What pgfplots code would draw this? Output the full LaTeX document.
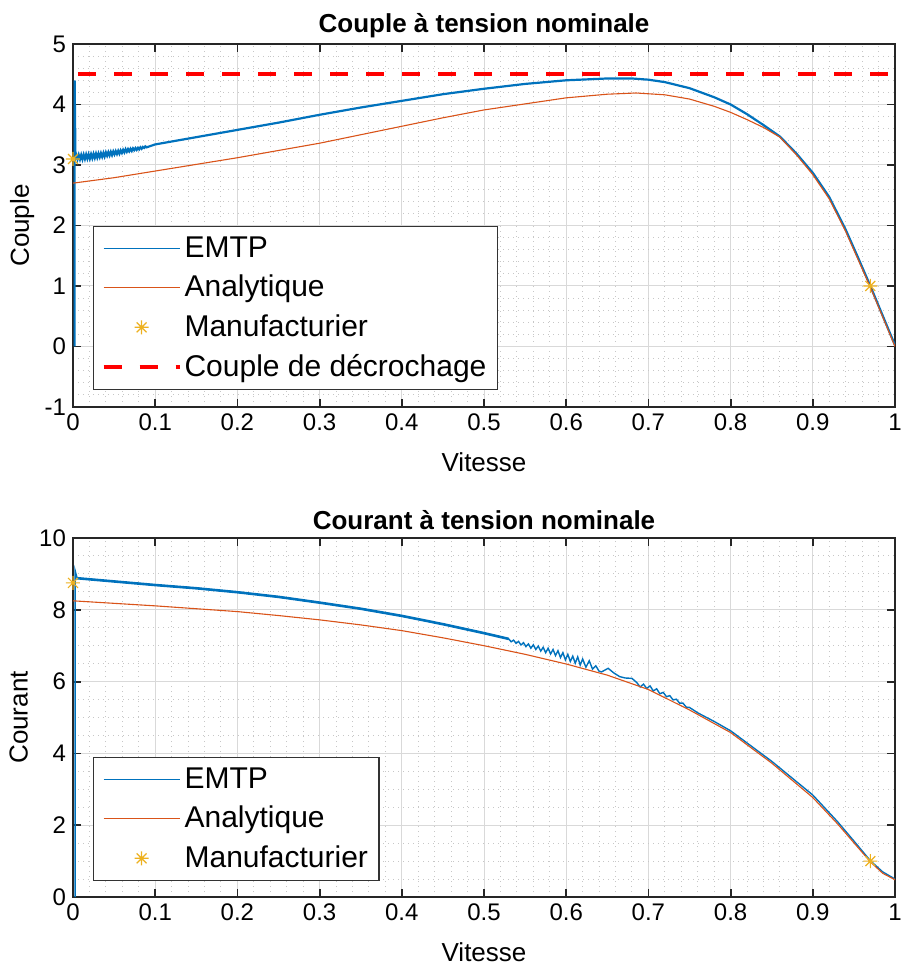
\documentclass[border=0pt]{standalone}
\usepackage{fontspec}
\setmainfont{Liberation Sans}
\usepackage{pgfplots}
\pgfplotsset{compat=1.18}
\definecolor{mblue}{rgb}{0,0.447,0.741}
\definecolor{morange}{rgb}{0.85,0.325,0.098}
\definecolor{myellow}{rgb}{0.929,0.694,0.125}
\pgfdeclareplotmark{mstar}{%
 \pgfpathmoveto{\pgfqpoint{-\pgfplotmarksize}{0pt}}\pgfpathlineto{\pgfqpoint{\pgfplotmarksize}{0pt}}%
 \pgfpathmoveto{\pgfqpoint{0pt}{-\pgfplotmarksize}}\pgfpathlineto{\pgfqpoint{0pt}{\pgfplotmarksize}}%
 \pgfpathmoveto{\pgfqpoint{-.7071\pgfplotmarksize}{-.7071\pgfplotmarksize}}\pgfpathlineto{\pgfqpoint{.7071\pgfplotmarksize}{.7071\pgfplotmarksize}}%
 \pgfpathmoveto{\pgfqpoint{-.7071\pgfplotmarksize}{.7071\pgfplotmarksize}}\pgfpathlineto{\pgfqpoint{.7071\pgfplotmarksize}{-.7071\pgfplotmarksize}}%
 \pgfusepathqstroke}
\pgfplotsset{
 mstyle/.style={
  scale only axis, width=411pt, anchor=north west,
  xmin=0, xmax=1,
  xtick={0,0.1,0.2,0.3,0.4,0.5,0.6,0.7,0.8,0.9,1},
  minor x tick num=4,
  grid=both,
  major grid style={line width=0.5pt, draw=black!15},
  minor grid style={line width=0.5pt, draw=black!22, dotted},
  axis line style={line width=0.9pt, draw=black!85},
  major tick style={line width=0.9pt, draw=black!85},
  major tick length=4pt, minor tick length=0pt,
  tick align=inside,
  ticklabel style={font=\fontsize{12}{14}\selectfont},
  /pgf/number format/assume math mode=true,
  /pgf/number format/fixed,
  label style={font=\fontsize{13}{15}\selectfont},
  title style={font=\bfseries\fontsize{13}{15}\selectfont, at={(axis description cs:0.5,1)}, anchor=center, yshift=3pt},
  x label style={at={(axis description cs:0.5,0)}, anchor=center, yshift=-27.5pt},
  legend cell align=left,
  legend style={font=\fontsize{15}{18}\selectfont, draw=black!80, line width=0.6pt, fill=white, anchor=north west,
    inner xsep=4pt, inner ysep=3.5pt, row sep=4.5pt, nodes={inner sep=1.5pt}},
 },
 limg/.style={legend image code/.code={\draw[##1, line width=0.5pt] (0pt,0pt) -- (38pt,0pt); \path[draw=none] (-1pt,0pt) -- (39pt,0pt);}},
 dimg/.style={legend image code/.code={\draw[##1, dash phase=0pt] (0pt,0pt) -- (38pt,0pt); \path[draw=none] (-1pt,0pt) -- (39pt,0pt);}},
 mimg/.style={legend image code/.code={\path[draw=none] (-1pt,0pt) -- (39pt,0pt); \draw[##1] plot coordinates {(19pt,0pt)};}},
}
\begin{document}
\begin{tikzpicture}
\begin{axis}[mstyle, at={(0pt,0pt)}, height=181.5pt,
  ymin=-1, ymax=5, ytick={-1,0,1,2,3,4,5}, minor y tick num=4,
  title={Couple à tension nominale}, xlabel={Vitesse}, ylabel={Couple},
  y label style={at={(axis description cs:-0.062,0.5)}, anchor=center},
  legend style={at={(0.0243,0.4986)}}]
\addplot[mblue, line width=1.1pt, limg] coordinates {
(0.002,0) (0.002,4.4) (0.003,3.12)
(0.0040,3.166) (0.0055,3.094) (0.0070,3.166) (0.0085,3.094) (0.0100,3.166) (0.0115,3.094)
(0.0130,3.17) (0.0145,3.10) (0.0160,3.175) (0.0175,3.105) (0.0190,3.175) (0.0205,3.105)
(0.0220,3.178) (0.0235,3.112) (0.0250,3.183) (0.0265,3.117) (0.0280,3.188) (0.0295,3.122)
(0.0310,3.19) (0.0325,3.13) (0.0340,3.195) (0.0355,3.135) (0.0370,3.20) (0.0385,3.14)
(0.0400,3.207) (0.0415,3.153) (0.0430,3.212) (0.0445,3.158) (0.0460,3.217) (0.0475,3.163)
(0.0490,3.224) (0.0505,3.176) (0.0520,3.229) (0.0535,3.181) (0.0550,3.234) (0.0565,3.186)
(0.0580,3.241) (0.0595,3.199) (0.0610,3.251) (0.0625,3.209) (0.0640,3.261) (0.0655,3.219)
(0.0670,3.263) (0.0685,3.227) (0.0700,3.268) (0.0715,3.232) (0.0730,3.275) (0.0745,3.245)
(0.0760,3.28) (0.0775,3.25) (0.0790,3.282) (0.0805,3.258) (0.0820,3.292) (0.0835,3.268)
(0.0850,3.298) (0.0865,3.282) (0.0880,3.308) (0.0895,3.292)
(0.1,3.34) (0.15,3.46) (0.2,3.58) (0.25,3.70) (0.3,3.83) (0.35,3.95) (0.4,4.06)
(0.45,4.17) (0.5,4.26) (0.55,4.34) (0.6,4.40) (0.65,4.43) (0.68,4.43) (0.7,4.41)
(0.72,4.37) (0.75,4.27) (0.78,4.12) (0.8,4.00) (0.82,3.84) (0.84,3.66) (0.86,3.47)
(0.88,3.19) (0.9,2.87) (0.92,2.47) (0.94,1.93) (0.955,1.47) (0.97,1.00) (0.985,0.51) (1.0,0.02)};
\addlegendentry{EMTP}
\addplot[morange, line width=0.55pt, limg] coordinates {
(0,2.70) (0.05,2.79) (0.1,2.90) (0.15,3.01) (0.2,3.12) (0.25,3.24) (0.3,3.36)
(0.35,3.50) (0.4,3.64) (0.45,3.78) (0.5,3.91) (0.55,4.01) (0.6,4.11) (0.65,4.17)
(0.685,4.19) (0.72,4.16) (0.75,4.09) (0.78,3.97) (0.8,3.87) (0.82,3.75) (0.84,3.62) (0.86,3.46)
(0.88,3.17) (0.9,2.84) (0.92,2.44) (0.94,1.90) (0.955,1.44) (0.97,0.98) (0.985,0.49) (1.0,0.0)};
\addlegendentry{Analytique}
\addplot[myellow, only marks, mark=mstar, mark size=3.5pt, line width=0.6pt, mimg] coordinates {(0,3.1) (0.97,1.0)};
\addlegendentry{Manufacturier}
\addplot[red, line width=2pt, dash pattern=on 9pt off 9pt, dash phase=15.5pt, dimg] coordinates {(0,4.5) (1,4.5)};
\addlegendentry{Couple de décrochage}
\end{axis}
\begin{axis}[mstyle, at={(0pt,-247pt)}, height=179.5pt,
  ymin=0, ymax=10, ytick={0,2,4,6,8,10}, minor y tick num=3,
  title={Courant à tension nominale}, xlabel={Vitesse}, ylabel={Courant},
  y label style={at={(axis description cs:-0.066,0.5)}, anchor=center},
  legend style={at={(0.0243,0.39)}}]
\addplot[mblue, line width=0.7pt, limg] coordinates {
(0.0025,0) (0.0025,9.1) (0.005,8.88) (0.05,8.79) (0.1,8.69) (0.15,8.60) (0.2,8.49)
(0.25,8.36) (0.3,8.20) (0.35,8.03) (0.4,7.83) (0.45,7.60) (0.5,7.35) (0.53,7.19)
(0.533,7.11) (0.536,7.155) (0.539,7.065) (0.542,7.12) (0.545,7.02) (0.548,7.085)
(0.551,6.975) (0.554,7.05) (0.557,6.93) (0.560,7.025) (0.563,6.895) (0.566,6.99)
(0.569,6.85) (0.572,6.955) (0.575,6.805) (0.578,6.93) (0.581,6.77) (0.584,6.895)
(0.587,6.725) (0.590,6.86) (0.593,6.67) (0.596,6.805) (0.599,6.605) (0.602,6.76)
(0.605,6.56) (0.608,6.71) (0.611,6.51) (0.614,6.69) (0.617,6.46) (0.620,6.63)
(0.624,6.40) (0.628,6.58) (0.632,6.35) (0.636,6.44) (0.640,6.29) (0.643,6.27)
(0.651,6.37) (0.658,6.24) (0.665,6.14) (0.672,6.10) (0.680,6.09) (0.686,5.97)
(0.690,5.85) (0.694,5.93) (0.698,5.81) (0.702,5.88) (0.706,5.74) (0.710,5.80)
(0.714,5.66) (0.718,5.70) (0.722,5.58) (0.726,5.61) (0.730,5.49) (0.734,5.51)
(0.738,5.40) (0.742,5.40) (0.746,5.29) (0.75,5.28) (0.76,5.13) (0.77,5.01)
(0.78,4.89) (0.79,4.76) (0.8,4.63) (0.85,3.78) (0.9,2.84) (0.93,2.10) (0.95,1.56)
(0.97,1.01) (0.985,0.70) (1.0,0.50)};
\addlegendentry{EMTP}
\addplot[mblue, line width=1.3pt, forget plot] coordinates {
(0.005,8.88) (0.05,8.79) (0.1,8.69) (0.15,8.60) (0.2,8.49)
(0.25,8.36) (0.3,8.20) (0.35,8.03) (0.4,7.83) (0.45,7.60) (0.5,7.35) (0.53,7.19)};
\addplot[morange, line width=0.55pt, limg] coordinates {
(0,8.25) (0.05,8.18) (0.1,8.11) (0.15,8.03) (0.2,7.95) (0.25,7.84) (0.3,7.72)
(0.35,7.58) (0.4,7.42) (0.45,7.22) (0.5,7.00) (0.55,6.76) (0.6,6.49) (0.65,6.18)
(0.7,5.78) (0.75,5.21) (0.8,4.58) (0.85,3.73) (0.9,2.77) (0.93,2.04) (0.95,1.51)
(0.97,0.98) (0.985,0.66) (1.0,0.48)};
\addlegendentry{Analytique}
\addplot[myellow, only marks, mark=mstar, mark size=3.5pt, line width=0.6pt, mimg] coordinates {(0,8.75) (0.97,1.0)};
\addlegendentry{Manufacturier}
\end{axis}
\pgfresetboundingbox
\path (-36.5pt,22pt) rectangle (413.5pt,-461.5pt);
\end{tikzpicture}
\end{document}
